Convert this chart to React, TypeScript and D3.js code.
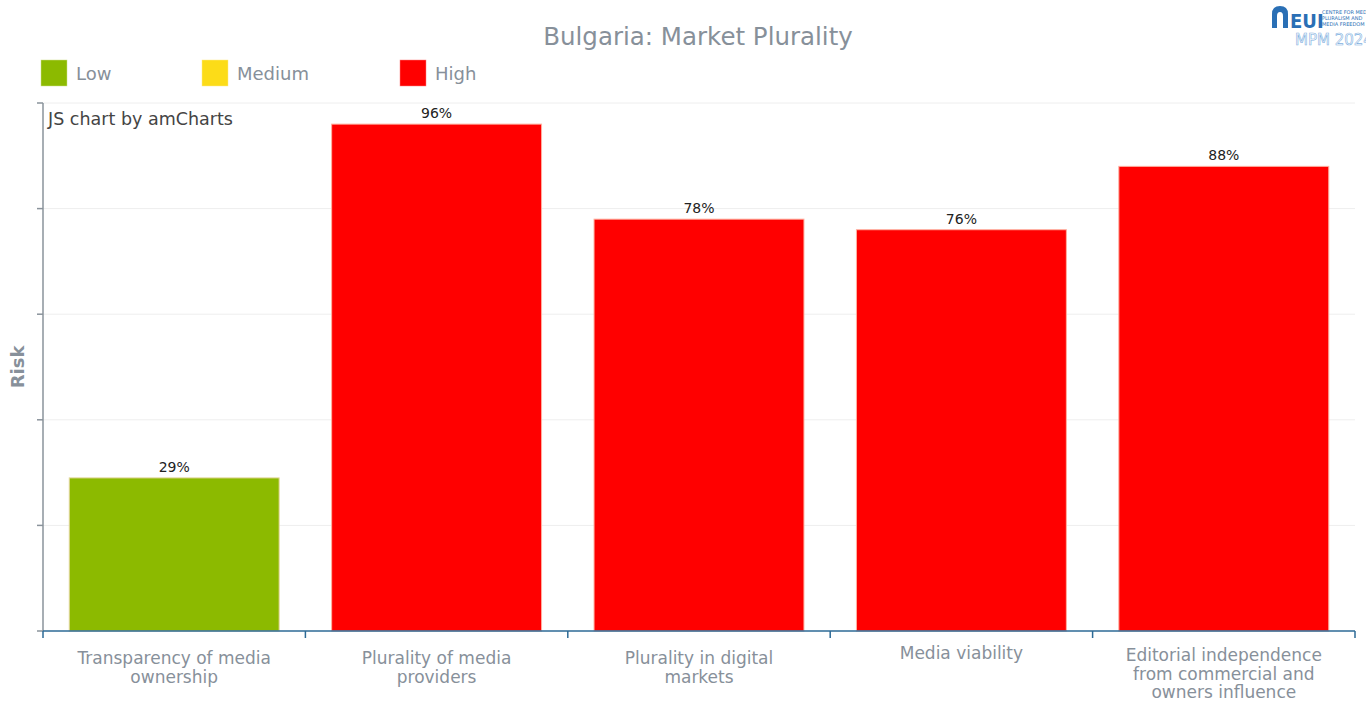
import React from "react";
import * as d3 from "d3";

const categories = [
  ["Transparency of media", "ownership"],
  ["Plurality of media", "providers"],
  ["Plurality in digital", "markets"],
  ["Media viability"],
  ["Editorial independence", "from commercial and", "owners influence"],
];
const values = [29, 96, 78, 76, 88];
const riskLevels = ["Low", "High", "High", "High", "High"];
const legendItems = ["Low", "Medium", "High"];
const legendColors = ["#8CBA00", "#FCDC18", "#FF0000"];
const yTicks = [0, 20, 40, 60, 80, 100];

const W = 1366;
const H = 702;
const FONT = "'DejaVu Sans', Verdana, sans-serif";
const GRAY = "#87909a";

export default function App() {
  const left = 43, right = 1355, top = 103, bottom = 631;
  const x = d3.scaleBand<number>().domain(d3.range(categories.length)).range([left, right]).paddingInner(0.2).paddingOuter(0.1);
  const xc = d3.scaleBand<number>().domain(d3.range(categories.length)).range([left, right]);
  const y = d3.scaleLinear().domain([0, 100]).range([bottom, top]);
  const colorOf = (r: string) => legendColors[legendItems.indexOf(r)];
  const strokeOf = (r: string) => (r === "Low" ? "#E6D8A2" : "#FFB0A0");
  const legendX = [41, 202, 400];

  return (
    <svg width={W} height={H} style={{ position: "absolute", left: 0, top: 0, fontFamily: FONT }}>
      <rect width={W} height={H} fill="#fff" />
      <text x={698} y={45} textAnchor="middle" fontSize={24.5} fill={GRAY}>Bulgaria: Market Plurality</text>

      {/* logo */}
      <g transform="translate(1272,6)">
        <path d="M0,22 L0,8 Q0,0 8,0 Q16,0 16,8 L16,22 L11,22 L11,10 Q11,6 8,6 Q5,6 5,10 L5,22 Z" fill="#2a6fb5" />
        <text x={18} y={22} fontSize={20} fontWeight="bold" fill="#2a6fb5" fontFamily="'DejaVu Sans Condensed', sans-serif">EUI</text>
        <text x={50} y={8} fontSize={5} fill="#2a6fb5">CENTRE FOR MEDIA</text>
        <text x={50} y={14} fontSize={5} fill="#2a6fb5">PLURALISM AND</text>
        <text x={50} y={20} fontSize={5} fill="#2a6fb5">MEDIA FREEDOM</text>
        <text x={23} y={39} fontSize={15} fill="#fff" stroke="#7fb0e0" strokeWidth={0.6}>MPM 2024</text>
      </g>

      {/* legend */}
      {legendItems.map((l, i) => (
        <g key={l}>
          <rect x={legendX[i]} y={60} width={26} height={26} fill={legendColors[i]} stroke={i === 0 ? "#cfe08a" : i === 1 ? "#fde98a" : "#ff8080"} strokeWidth={0.5} />
          <text x={legendX[i] + 35} y={80} fontSize={18} fill={GRAY}>{l}</text>
        </g>
      ))}

      {/* grid */}
      {yTicks.map((t) => (
        <g key={t}>
          {t > 0 && <line x1={left} x2={right} y1={y(t)} y2={y(t)} stroke="#eeeeee" strokeWidth={1} />}
          <line x1={left - 6} x2={left} y1={y(t)} y2={y(t)} stroke="#8a939b" strokeWidth={1.5} />
        </g>
      ))}
      <line x1={left} x2={left} y1={top} y2={bottom} stroke="#8a939b" strokeWidth={1.5} />

      <text x={48} y={125} fontSize={17.5} fill="#444">JS chart by amCharts</text>

      {/* bars */}
      {values.map((v, i) => (
        <g key={i}>
          <rect x={x(i)} y={y(v)} width={x.bandwidth()} height={bottom - y(v)} fill={colorOf(riskLevels[i])} stroke={strokeOf(riskLevels[i])} strokeWidth={1} />
          <text x={(x(i) as number) + x.bandwidth() / 2} y={y(v) - 6} textAnchor="middle" fontSize={14} fill="#222">{v}%</text>
        </g>
      ))}

      {/* x axis */}
      <line x1={left} x2={right} y1={bottom} y2={bottom} stroke="#2d6a96" strokeWidth={1.5} />
      {d3.range(categories.length + 1).map((i) => {
        const px = i < categories.length ? (xc(i) as number) : right;
        return <line key={i} x1={px} x2={px} y1={bottom} y2={bottom + 7} stroke="#2d6a96" strokeWidth={1.5} />;
      })}
      {categories.map((lines, i) => (
        <text key={i} textAnchor="middle" fontSize={17} fill={GRAY}>
          {lines.map((ln, j) => (
            <tspan key={j} x={(xc(i) as number) + xc.bandwidth() / 2} y={(lines.length === 1 ? 659 : lines.length === 3 ? 661 : 664) + j * 18.5}>{ln}</tspan>
          ))}
        </text>
      ))}

      <text transform="translate(24,367) rotate(-90)" textAnchor="middle" fontSize={18} fontWeight="bold" fill={GRAY}>Risk</text>
    </svg>
  );
}
